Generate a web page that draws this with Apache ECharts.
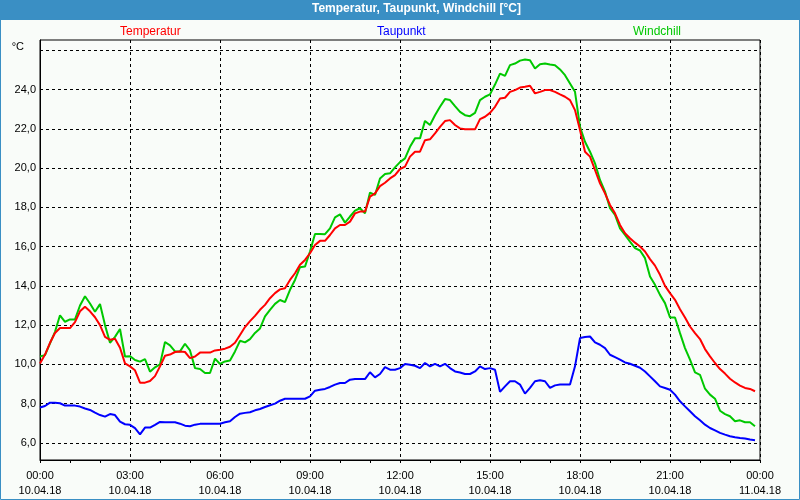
<!DOCTYPE html>
<html>
<head>
<meta charset="utf-8">
<script src="https://cdn.jsdelivr.net/npm/echarts@6/dist/echarts.min.js"></script>
<style>
html,body{margin:0;padding:0;background:#fff;}
#c{width:800px;height:500px;}
</style>
</head>
<body>
<div id="c"></div>
<script>
// Sampling: every 10 minutes from 00:00 to 23:50 (10.04.18)
const stepsPerHour = 6;
const temperatur = [
  10.05,10.5,11.1,11.6,11.85,11.85,11.85,12.15,12.7,12.93,12.7,12.4,12.0,11.4,11.25,11.3,10.85,10.05,9.9,9.7,9.07,9.07,9.15,9.4,
  9.9,10.44,10.5,10.63,10.66,10.63,10.32,10.4,10.6,10.6,10.6,10.71,10.75,10.8,10.9,11.1,11.5,11.9,12.2,12.47,12.78,13.03,13.37,13.63,
  13.82,13.88,14.3,14.64,15.07,15.32,15.66,16.08,16.29,16.29,16.59,16.93,17.1,17.1,17.27,17.69,17.78,17.78,18.54,18.71,19.08,19.25,19.47,19.64,
  19.95,20.07,20.58,20.83,20.83,21.42,21.46,21.76,22.1,22.39,22.44,22.19,22.02,21.97,21.97,21.97,22.49,22.61,22.81,23.12,23.54,23.58,23.88,23.97,
  24.1,24.14,24.19,23.8,23.88,23.97,23.97,23.88,23.75,23.63,23.46,22.95,21.93,20.83,20.58,19.9,19.22,18.71,18.12,17.69,17.1,16.68,16.42,16.2,
  16.0,15.75,15.36,15.03,14.56,14.0,13.63,13.29,12.81,12.39,11.93,11.59,11.29,10.78,10.41,10.07,9.76,9.53,9.27,9.08,8.92,8.8,8.75,8.63
];
const taupunkt = [
  7.8,7.88,8.05,8.05,8.02,7.9,7.9,7.9,7.85,7.75,7.68,7.54,7.42,7.34,7.47,7.42,7.08,6.95,6.92,6.75,6.44,6.78,6.78,6.92,
  7.07,7.05,7.05,7.05,6.98,6.88,6.85,6.93,6.97,6.98,6.98,6.98,6.98,7.05,7.1,7.32,7.49,7.53,7.56,7.66,7.73,7.83,7.92,8.0,
  8.15,8.25,8.25,8.25,8.25,8.25,8.37,8.66,8.71,8.75,8.85,8.97,9.05,9.05,9.22,9.25,9.25,9.25,9.6,9.34,9.51,9.86,9.73,9.73,
  9.81,10.02,9.98,9.93,9.81,10.07,9.9,10.03,9.9,10.03,9.81,9.64,9.59,9.51,9.51,9.64,9.9,9.76,9.81,9.73,8.6,8.88,9.14,9.14,
  8.97,8.51,8.8,9.14,9.19,9.14,8.8,8.93,8.97,8.97,8.97,9.9,11.34,11.39,11.42,11.12,11.0,10.83,10.49,10.37,10.24,10.1,10.03,9.93,
  9.83,9.64,9.39,9.14,8.88,8.8,8.71,8.46,8.12,7.86,7.61,7.36,7.15,6.93,6.76,6.64,6.51,6.42,6.34,6.29,6.25,6.22,6.17,6.14
];
const windchill = [
  10.4,10.47,11.07,11.66,12.5,12.17,12.29,12.29,13.0,13.47,13.1,12.68,13.07,12.0,11.1,11.4,11.8,10.4,10.42,10.22,10.14,10.27,9.63,9.85,
  10.0,11.14,10.97,10.66,10.66,11.05,10.71,9.81,9.76,9.56,9.56,10.29,10.02,10.15,10.2,10.66,11.2,11.12,11.29,11.6,11.83,12.44,12.78,13.08,
  13.28,13.17,13.8,14.3,14.95,14.98,15.75,16.64,16.64,16.63,16.93,17.49,17.64,17.22,17.53,17.83,17.95,17.69,18.75,18.63,19.47,19.69,19.73,20.03,
  20.3,20.49,21.08,21.51,21.51,22.4,22.19,22.69,23.12,23.51,23.46,23.15,22.86,22.69,22.64,22.81,23.46,23.63,23.75,24.25,24.81,24.69,25.24,25.32,
  25.47,25.53,25.49,25.07,25.29,25.32,25.27,25.24,25.02,24.73,24.31,23.88,22.1,21.34,20.83,20.24,19.39,18.8,17.95,17.61,16.93,16.59,16.25,15.92,
  15.8,15.41,14.47,14.05,13.54,13.12,12.39,12.39,11.59,10.83,10.24,9.59,9.47,8.76,8.46,8.25,7.64,7.47,7.36,7.1,7.15,7.05,7.05,6.85
];
const timeLabels = ['00:00','03:00','06:00','09:00','12:00','15:00','18:00','21:00','00:00'];
const dateLabels = ['10.04.18','10.04.18','10.04.18','10.04.18','10.04.18','10.04.18','10.04.18','10.04.18','11.04.18'];
const yGridValues = [6,8,10,12,14,16,18,20,22,24,26];
const yLabelValues = [6,8,10,12,14,16,18,20,22,24];

const FONT = 'Liberation Sans';
const hours = temperatur.map((_, i) => i / stepsPerHour);
const pairs = arr => arr.map((v, i) => [hours[i], v]);

const chart = echarts.init(document.getElementById('c'), null, {renderer: 'canvas'});
const legendText = (color) => ({color: color, fontFamily: FONT, fontSize: 12});
chart.setOption({
  animation: false,
  backgroundColor: '#f9fcf9',
  graphic: [
    {type: 'rect', shape: {x: 0, y: 0, width: 800, height: 20}, style: {fill: '#3a8fc4'}, z: 0},
    {type: 'rect', shape: {x: 0.5, y: 0.5, width: 799, height: 499}, style: {fill: null, stroke: '#3a8fc4', lineWidth: 1}, z: 0},
    {type: 'text', left: 312, top: 3, style: {text: 'Temperatur, Taupunkt, Windchill [°C]', fill: '#ffffff', font: 'bold 12px "Liberation Sans"'}},
    {type: 'text', right: 776, top: 41, style: {text: '°C', fill: '#000', font: '11px "Liberation Sans"'}}
  ],
  legend: [
    {data: [{name: 'Temperatur', textStyle: legendText('#ff0000')}], left: 114, top: 26, itemWidth: 0, itemHeight: 0, padding: 0},
    {data: [{name: 'Taupunkt', textStyle: legendText('#0000ff')}], left: 371, top: 26, itemWidth: 0, itemHeight: 0, padding: 0},
    {data: [{name: 'Windchill', textStyle: legendText('#00c800')}], left: 627, top: 26, itemWidth: 0, itemHeight: 0, padding: 0}
  ],
  grid: {left: 40, right: 40, top: 40, bottom: 40, show: true, borderColor: '#000', borderWidth: 1, backgroundColor: 'transparent', outerBoundsMode: 'none', containLabel: false},
  xAxis: {
    type: 'value', min: 0, max: 24, interval: 3,
    axisLine: {show: true, lineStyle: {color: '#000', width: 1}},
    axisTick: {show: true, length: 3, lineStyle: {color: '#000'}},
    minorTick: {show: true, splitNumber: 3, length: 3, lineStyle: {color: '#000'}},
    splitLine: {show: true, lineStyle: {color: '#000', type: [3, 3], width: 1}},
    axisLabel: {
      margin: 8, color: '#000', fontFamily: FONT, fontSize: 11, lineHeight: 15,
      formatter: v => { const i = Math.round(v / 3); return timeLabels[i] + '\n' + dateLabels[i]; }
    }
  },
  yAxis: {
    type: 'value', min: 5.13, max: 26.52,
    axisLine: {show: true, lineStyle: {color: '#000', width: 1}},
    axisTick: {show: false, customValues: yGridValues},
    splitLine: {show: true, lineStyle: {color: '#000', type: [3, 3], width: 1}},
    axisLabel: {
      customValues: yLabelValues, margin: 4, color: '#000', fontFamily: FONT, fontSize: 11,
      formatter: v => v.toFixed(1).replace('.', ',')
    }
  },
  series: [
    {name: 'Temperatur', type: 'line', data: pairs(temperatur), showSymbol: false, symbol: 'none', color: '#ff0000', lineStyle: {width: 2, color: '#ff0000'}, z: 3},
    {name: 'Taupunkt', type: 'line', data: pairs(taupunkt), showSymbol: false, symbol: 'none', color: '#0000ff', lineStyle: {width: 2, color: '#0000ff'}, z: 3},
    {name: 'Windchill', type: 'line', data: pairs(windchill), showSymbol: false, symbol: 'none', color: '#00c800', lineStyle: {width: 2, color: '#00c800'}, z: 2}
  ]
});
</script>
</body>
</html>
